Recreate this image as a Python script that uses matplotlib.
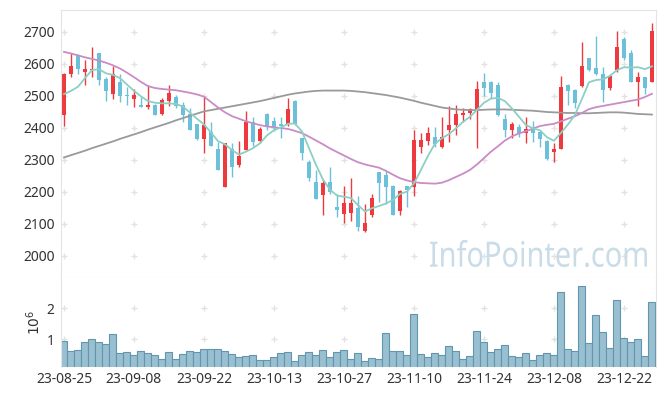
import numpy as np
import matplotlib
matplotlib.use("Agg")
import matplotlib.pyplot as plt
from matplotlib.textpath import TextPath
from matplotlib.patches import PathPatch
from matplotlib.font_manager import FontProperties
from matplotlib.transforms import Affine2D

plt.rcParams['font.family'] = ['Noto Sans', 'DejaVu Sans']

# ---- values: daily candles 23-08-25 .. end of Dec
tick_labels = ['23-08-25', '23-09-08', '23-09-22', '23-10-13', '23-10-27',
               '23-11-10', '23-11-24', '23-12-08', '23-12-22']

opens = [2440, 2568, 2627, 2575, 2580, 2633, 2552, 2506, 2543, 2501,
         2491, 2472, 2466, 2471, 2444, 2483, 2495, 2471, 2443, 2411,
         2365, 2386, 2333, 2215, 2334, 2283, 2331, 2418, 2359, 2443,
         2422, 2411, 2410, 2483, 2369, 2294, 2230, 2189, 2230, 2152,
         2129, 2134, 2148, 2078, 2127, 2260, 2252, 2218, 2140, 2218,
         2215, 2341, 2359, 2372, 2341, 2393, 2408, 2440, 2445, 2455,
         2543, 2543, 2533, 2427, 2393, 2401, 2384, 2398, 2387, 2359,
         2325, 2334, 2533, 2518, 2531, 2617, 2587, 2567, 2524, 2580,
         2677, 2634, 2543, 2559, 2544]
closes = [2568, 2593, 2584, 2582, 2585, 2549, 2516, 2568, 2500, 2499,
          2502, 2466, 2471, 2440, 2486, 2508, 2468, 2440, 2393, 2365,
          2408, 2344, 2269, 2351, 2278, 2311, 2418, 2356, 2396, 2401,
          2401, 2405, 2458, 2410, 2320, 2244, 2178, 2226, 2199, 2143,
          2164, 2164, 2090, 2103, 2179, 2227, 2215, 2127, 2201, 2205,
          2361, 2361, 2382, 2349, 2370, 2408, 2443, 2446, 2458, 2521,
          2523, 2507, 2440, 2393, 2411, 2382, 2395, 2384, 2365, 2302,
          2333, 2528, 2516, 2476, 2593, 2580, 2568, 2518, 2561, 2653,
          2619, 2544, 2559, 2523, 2702]
highs = [2570, 2632, 2630, 2611, 2651, 2633, 2559, 2594, 2567, 2526,
         2521, 2495, 2532, 2473, 2492, 2533, 2502, 2481, 2460, 2413,
         2499, 2417, 2356, 2353, 2351, 2357, 2452, 2432, 2401, 2445,
         2434, 2432, 2492, 2485, 2369, 2300, 2268, 2236, 2278, 2194,
         2218, 2242, 2186, 2161, 2193, 2262, 2265, 2220, 2205, 2219,
         2393, 2382, 2401, 2401, 2434, 2468, 2471, 2460, 2460, 2546,
         2572, 2545, 2544, 2442, 2419, 2410, 2434, 2421, 2392, 2361,
         2351, 2561, 2535, 2520, 2668, 2619, 2686, 2591, 2568, 2702,
         2684, 2643, 2575, 2560, 2726]
lows = [2405, 2557, 2567, 2532, 2559, 2532, 2482, 2491, 2481, 2471,
        2466, 2464, 2457, 2439, 2440, 2468, 2460, 2419, 2392, 2360,
        2320, 2342, 2267, 2213, 2245, 2278, 2330, 2344, 2351, 2393,
        2390, 2367, 2405, 2408, 2300, 2234, 2176, 2127, 2193, 2122,
        2101, 2108, 2078, 2075, 2122, 2169, 2161, 2126, 2128, 2151,
        2186, 2320, 2346, 2341, 2336, 2356, 2377, 2417, 2426, 2335,
        2500, 2492, 2438, 2370, 2367, 2370, 2351, 2356, 2341, 2300,
        2292, 2332, 2471, 2460, 2528, 2578, 2566, 2481, 2518, 2575,
        2611, 2542, 2468, 2505, 2543]
# volume in millions of shares
volumes = [0.95, 0.63, 0.66, 0.92, 1.00, 0.92, 0.85, 1.17, 0.56, 0.59,
           0.50, 0.63, 0.56, 0.50, 0.37, 0.59, 0.37, 0.53, 0.63, 0.59,
           0.69, 0.69, 0.69, 0.63, 0.53, 0.43, 0.46, 0.50, 0.34, 0.34,
           0.43, 0.56, 0.59, 0.30, 0.50, 0.59, 0.50, 0.66, 0.42, 0.58,
           0.65, 0.36, 0.55, 0.29, 0.39, 0.36, 1.20, 0.61, 0.61, 0.49,
           1.81, 0.52, 0.42, 0.55, 0.49, 0.78, 0.61, 0.36, 0.45, 1.26,
           0.90, 0.58, 0.68, 0.81, 0.45, 0.42, 0.55, 0.32, 0.49, 0.55,
           0.49, 2.52, 0.68, 0.61, 2.71, 0.87, 1.78, 1.23, 0.71, 2.26,
           1.03, 0.90, 1.00, 0.45, 2.20]

# moving averages as drawn (short / mid / long)
ma_short = [2505, 2515, 2528, 2555, 2580, 2583, 2570, 2565, 2555, 2535,
            2515, 2498, 2483, 2478, 2476, 2476, 2474, 2466, 2447, 2428,
            2410, 2385, 2358, 2348, 2330, 2316, 2325, 2336, 2351, 2376,
            2392, 2401, 2412, 2413, 2388, 2336, 2284, 2238, 2206, 2188,
            2184, 2180, 2158, 2138, 2148, 2155, 2163, 2174, 2193, 2200,
            2226, 2268, 2312, 2350, 2367, 2380, 2398, 2418, 2434, 2456,
            2478, 2491, 2493, 2483, 2460, 2434, 2408, 2398, 2392, 2370,
            2359, 2384, 2410, 2440, 2490, 2542, 2549, 2551, 2562, 2580,
            2589, 2588, 2589, 2583, 2592]
ma_mid = [2637, 2632, 2626, 2620, 2615, 2610, 2603, 2595, 2585, 2572,
          2558, 2543, 2530, 2524, 2521, 2519, 2517, 2513, 2509, 2504,
          2497, 2480, 2463, 2448, 2436, 2428, 2420, 2414, 2408, 2404,
          2401, 2399, 2396, 2390, 2383, 2372, 2360, 2348, 2335, 2324,
          2313, 2302, 2292, 2285, 2280, 2275, 2265, 2253, 2242, 2235,
          2230, 2227, 2226, 2225, 2228, 2236, 2246, 2256, 2268, 2285,
          2305, 2325, 2342, 2360, 2373, 2382, 2389, 2397, 2405, 2409,
          2412, 2420, 2428, 2436, 2446, 2458, 2464, 2468, 2472, 2476,
          2480, 2484, 2488, 2496, 2506]
ma_long = [2307, 2314, 2321, 2328, 2336, 2343, 2350, 2357, 2365, 2372,
           2379, 2386, 2394, 2401, 2408, 2415, 2423, 2430, 2437, 2444,
           2451, 2455, 2459, 2463, 2467, 2471, 2475, 2479, 2483, 2488,
           2493, 2498, 2503, 2507, 2510, 2513, 2515, 2516, 2516, 2516,
           2516, 2515, 2513, 2511, 2508, 2505, 2502, 2498, 2494, 2489,
           2484, 2478, 2473, 2468, 2463, 2460, 2457, 2456, 2455, 2455,
           2456, 2457, 2457, 2457, 2456, 2455, 2454, 2453, 2451, 2449,
           2448, 2447, 2446, 2446, 2445, 2445, 2446, 2447, 2448, 2448,
           2447, 2445, 2443, 2442, 2441]

RED = '#ee3a3e'
BLUE = '#6cc0da'
GRID = '#e2e2e2'
SPINE = '#e4e4e4'
TXT = '#333333'

n = len(closes)
x = np.arange(n)
o = np.array(opens)
c = np.array(closes)

fig = plt.figure(figsize=(6.65, 3.96), dpi=100)
ax = fig.add_axes([0.0917, 0.298, 0.8947, 0.6768])
axv = fig.add_axes([0.0917, 0.0732, 0.8947, 0.2248], sharex=ax)

# watermark: text outline squeezed to the box it fills in the original
wm = TextPath((0, 0), 'InfoPointer.com', size=100,
              prop=FontProperties(family='Noto Sans'))
bb = wm.get_extents()
cap = TextPath((0, 0), 'I', size=100,
               prop=FontProperties(family='Noto Sans')).get_extents().y1
sx = 217.0 / bb.width
sy = 25.0 / cap
wm_tf = Affine2D().translate(-bb.x0, 0).scale(sx, sy).translate(430, 396 - 266.7)
fig.add_artist(PathPatch(wm, transform=wm_tf, facecolor='#c9dce7',
                         edgecolor='none', zorder=0.4))

# grid crosses
gx, gy = np.meshgrid(np.arange(0, n, 10), np.arange(2000, 2701, 100))
ax.plot(gx.ravel(), gy.ravel(), '+', color=GRID, ms=5, mew=1, zorder=0.5)
vx, vy = np.meshgrid(np.arange(0, n, 10), [1, 2])
axv.plot(vx.ravel(), vy.ravel(), '+', color=GRID, ms=5, mew=1, zorder=0.5)

# candles
cols = np.where(c >= o, RED, BLUE)
ax.vlines(x, lows, highs, colors=cols, lw=1.0, zorder=2)
body_lo = np.minimum(o, c)
body_h = np.maximum(np.abs(c - o), 3)
ax.bar(x, body_h, bottom=body_lo, width=0.68, color=cols, linewidth=0, zorder=2)

# moving averages
ax.plot(x, ma_long, color='#9a9a9a', lw=1.3, zorder=3)
ax.plot(x, ma_mid, color='#c98cc6', lw=1.3, zorder=3)
ax.plot(x, ma_short, color='#8ccfc4', lw=1.3, zorder=3)

# volume
axv.bar(x, volumes, width=1.0, color='#98c0d1', edgecolor='#6396ad',
        linewidth=0.8, zorder=2)

ax.set_xlim(-0.43, 84.57)
ax.set_ylim(1930, 2768)
axv.set_ylim(0.107, 2.97)

ax.set_yticks(range(2000, 2701, 100))
axv.set_yticks([1, 2])
axv.set_xticks(range(0, 81, 10))
axv.set_xticklabels(tick_labels)

ax.tick_params(axis='x', labelbottom=False, length=0)
ax.tick_params(axis='y', length=0, pad=4.5, labelsize=10, labelcolor=TXT)
axv.tick_params(axis='y', length=0, pad=4.5, labelsize=10, labelcolor=TXT)
axv.tick_params(axis='x', length=0, pad=3.5, labelsize=10, labelcolor=TXT)
axv.set_ylabel(r'$10^6$', fontsize=10, color=TXT, labelpad=2)

for s in ax.spines.values():
    s.set_color(SPINE)
for name in ['left', 'right']:
    axv.spines[name].set_color(SPINE)
axv.spines['top'].set_visible(False)
axv.spines['bottom'].set_visible(False)

fig.savefig('out.png', dpi=100)
